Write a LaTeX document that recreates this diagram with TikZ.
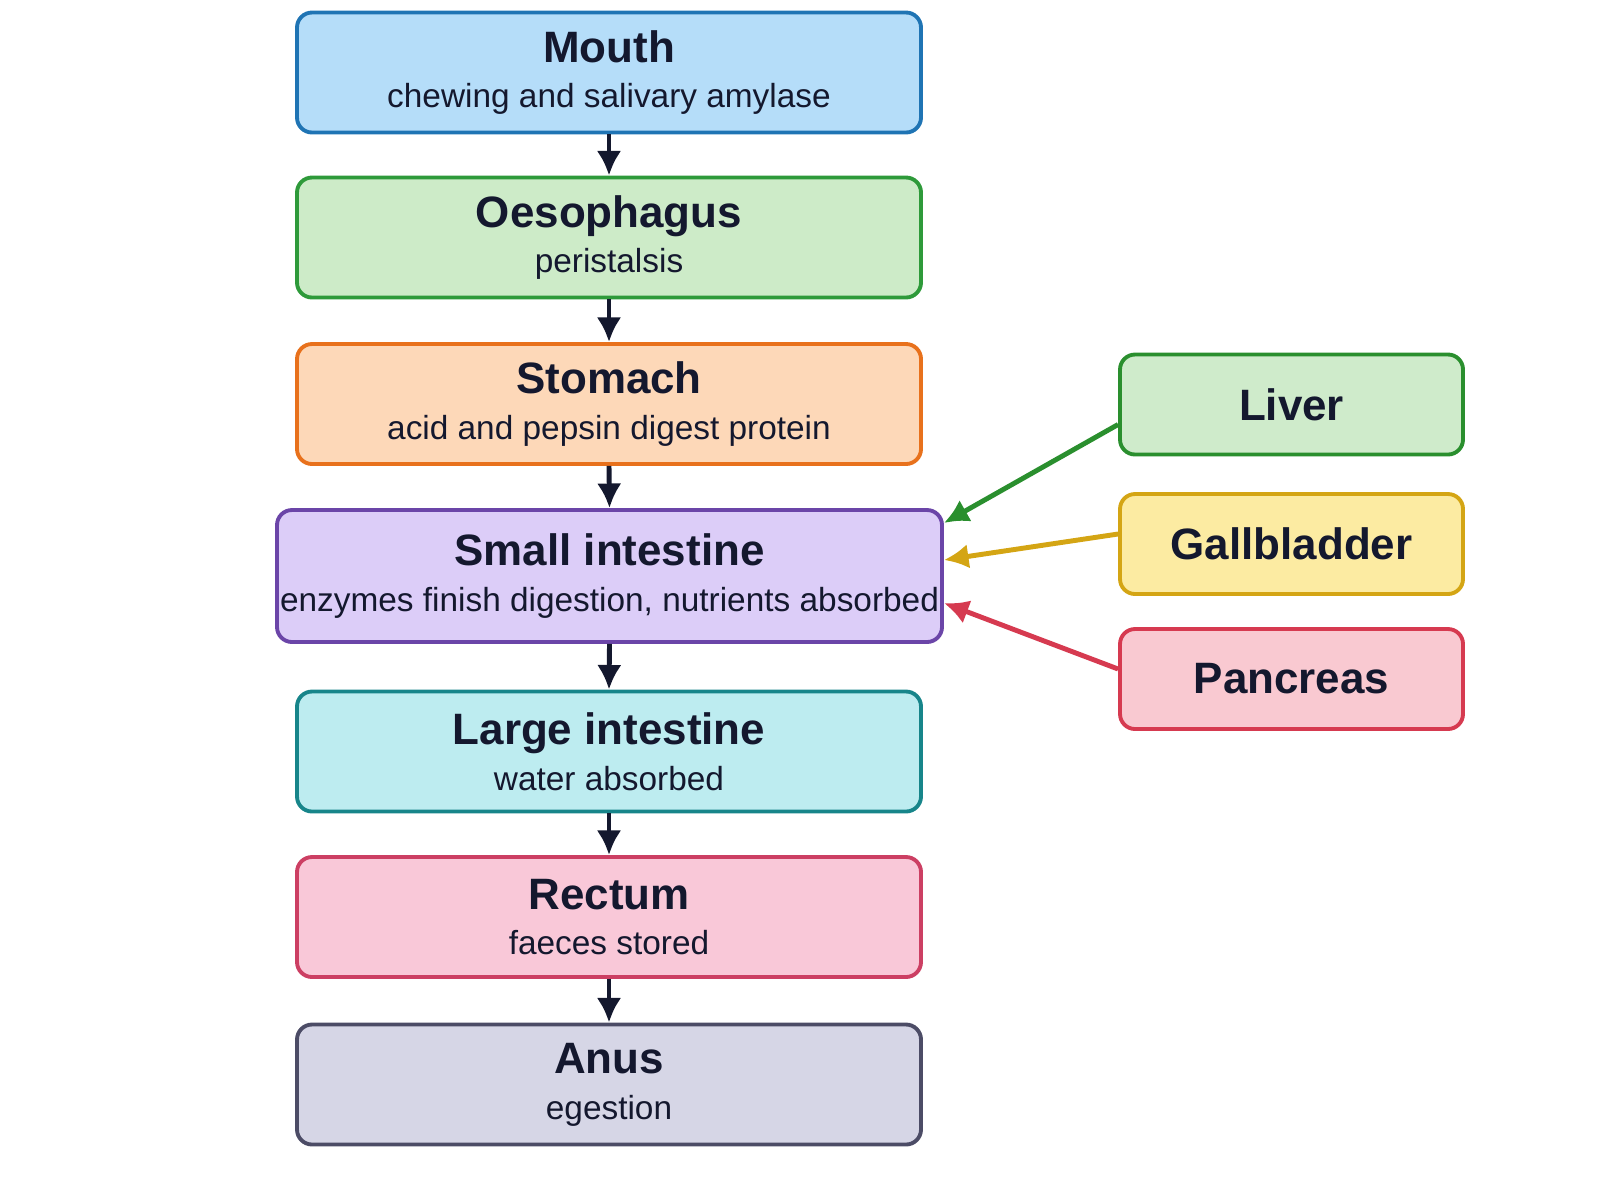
\documentclass[tikz,border=0pt]{standalone}
\usepackage{fontspec}
\setmainfont{Liberation Sans}
\usetikzlibrary{arrows.meta,positioning}
\definecolor{ink}{HTML}{14182E}
\definecolor{mouthF}{HTML}{B5DDF9}\definecolor{mouthD}{HTML}{1F74B4}
\definecolor{oesoF}{HTML}{CDEBC8}\definecolor{oesoD}{HTML}{2E9A3A}
\definecolor{stomF}{HTML}{FDD8B8}\definecolor{stomD}{HTML}{E8711C}
\definecolor{smallF}{HTML}{DCCDF8}\definecolor{smallD}{HTML}{6B45A8}
\definecolor{largeF}{HTML}{BDECF0}\definecolor{largeD}{HTML}{17858A}
\definecolor{rectF}{HTML}{F9C8D8}\definecolor{rectD}{HTML}{CC3F63}
\definecolor{anusF}{HTML}{D6D6E6}\definecolor{anusD}{HTML}{4C4C66}
\definecolor{liverF}{HTML}{CFEBCB}\definecolor{liverD}{HTML}{2A8F2E}
\definecolor{gallF}{HTML}{FCEBA2}\definecolor{gallD}{HTML}{D4A514}
\definecolor{pancF}{HTML}{F9C9D1}\definecolor{pancD}{HTML}{D63A50}
\newcommand{\organ}[2]{{\fontsize{12.5}{14}\selectfont\bfseries #1}\\[1pt]{\fontsize{9.5}{11}\selectfont #2}}
\tikzset{
  stage/.style={draw=#1D, fill=#1F, line width=1.1pt, rounded corners=0.15cm,
    minimum width=6.24cm, minimum height=1.2cm, align=center, text=ink, inner sep=0pt},
  gland/.style={draw=#1D, fill=#1F, line width=1.1pt, rounded corners=0.15cm,
    minimum width=3.43cm, minimum height=1.0cm, text=ink, inner sep=0pt,
    font=\fontsize{12.5}{14}\selectfont\bfseries},
  flow/.style={-{Latex[length=7pt,width=7pt]}, ink, line width=1.4pt}
}
\begin{document}
\begin{tikzpicture}
    \useasboundingbox (0,0) rectangle (16,-12);

    % -------------------------------------------------------
    % 1. Main tract
    % -------------------------------------------------------
    \node[stage=mouth] (mouth) at (6.09,-0.725) {\organ{Mouth}{chewing and salivary amylase}};
    \node[stage=oeso] (oeso) at (6.09,-2.375) {\organ{Oesophagus}{peristalsis}};
    \node[stage=stom] (stom) at (6.09,-4.04) {\organ{Stomach}{acid and pepsin digest protein}};
    \node[stage=small, minimum width=6.65cm, minimum height=1.32cm] (small) at (6.095,-5.76)
      {\organ{Small intestine}{enzymes finish digestion, nutrients absorbed}};
    \node[stage=large] (large) at (6.09,-7.515) {\organ{Large intestine}{water absorbed}};
    \node[stage=rect] (rect) at (6.09,-9.17) {\organ{Rectum}{faeces stored}};
    \node[stage=anus] (anus) at (6.09,-10.845) {\organ{Anus}{egestion}};

    % -------------------------------------------------------
    % 2. Accessory organs
    % -------------------------------------------------------
    \node[gland=liver] (liver) at (12.915,-4.045) {Liver};
    \node[gland=gall] (gall) at (12.915,-5.44) {Gallbladder};
    \node[gland=panc] (panc) at (12.915,-6.79) {Pancreas};

    % -------------------------------------------------------
    % 3. Connectors
    % -------------------------------------------------------
    \foreach \a/\b in {mouth/oeso, oeso/stom, stom/small, small/large, large/rect, rect/anus}
      \draw[flow] (\a.south) -- (\b.north);

    \draw[flow, liverD] ([yshift=-0.2cm]liver.west) -- ([yshift=0.53cm]small.east);
    \draw[flow, gallD] ([yshift=0.1cm]gall.west) -- ([yshift=0.16cm]small.east);
    \draw[flow, pancD] ([yshift=0.1cm]panc.west) -- ([yshift=-0.27cm]small.east);
\end{tikzpicture}
\end{document}
